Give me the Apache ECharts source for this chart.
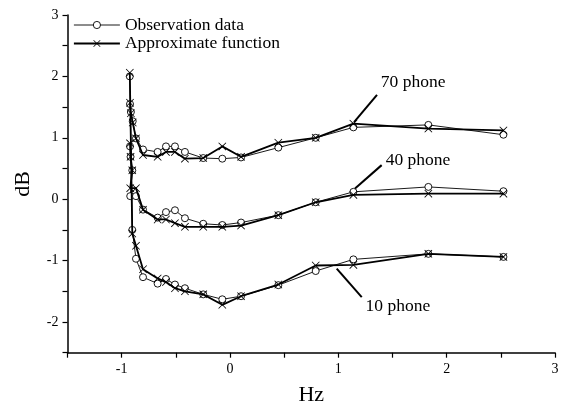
<!DOCTYPE html>
<html>
<head>
<meta charset="utf-8">
<script src="https://cdn.jsdelivr.net/npm/echarts@6/dist/echarts.min.js"></script>
<style>html,body{margin:0;padding:0;background:#fff}#c{width:561px;height:411px}</style>
</head>
<body>
<div id="c"></div>
<script>
// ---- data ----
const x70 = [-0.923, -0.915, -0.898, -0.868, -0.803, -0.668, -0.591, -0.508, -0.416, -0.247, -0.071, 0.102, 0.446, 0.791, 1.139, 1.831, 2.524];
const obs70 = [1.55, 1.42, 1.27, 0.99, 0.81, 0.77, 0.86, 0.86, 0.77, 0.67, 0.66, 0.68, 0.84, 1.00, 1.17, 1.21, 1.05];
const apx70 = [1.57, 1.40, 1.25, 0.99, 0.72, 0.69, 0.77, 0.77, 0.66, 0.67, 0.86, 0.69, 0.92, 1.00, 1.23, 1.15, 1.12];

const x40 = [-0.923, -0.918, -0.902, -0.921, -0.868, -0.803, -0.668, -0.591, -0.508, -0.416, -0.247, -0.071, 0.102, 0.446, 0.791, 1.139, 1.831, 2.524];
const obs40 = [0.86, 0.69, 0.47, 0.05, 0.05, -0.17, -0.30, -0.21, -0.18, -0.31, -0.40, -0.42, -0.38, -0.26, -0.05, 0.12, 0.20, 0.13];
const apx40 = [0.91, 0.69, 0.47, 0.18, 0.18, -0.17, -0.33, -0.33, -0.39, -0.45, -0.45, -0.45, -0.43, -0.26, -0.05, 0.07, 0.09, 0.09];

const x10 = [-0.925, -0.902, -0.868, -0.803, -0.668, -0.591, -0.508, -0.416, -0.247, -0.071, 0.102, 0.446, 0.791, 1.139, 1.831, 2.524];
const obs10 = [2.00, -0.50, -0.97, -1.27, -1.375, -1.30, -1.39, -1.45, -1.55, -1.63, -1.58, -1.40, -1.17, -0.98, -0.89, -0.94];
const apx10 = [2.06, -0.56, -0.76, -1.14, -1.29, -1.35, -1.45, -1.50, -1.55, -1.72, -1.58, -1.39, -1.08, -1.07, -0.89, -0.94];

const legendNames = ['Observation data', 'Approximate function'];
const curveLabels = ['70 phone', '40 phone', '10 phone'];
// annotation anchors in data units: [label pos], [arrow start], [arrow end]
const labelPos = [[1.69, 1.91], [1.735, 0.636], [1.55, -1.745]];
const arrowStart = [[1.357, 1.70], [1.40, 0.555], [1.216, -1.594]];
const arrowEnd = [[1.145, 1.256], [1.154, 0.175], [0.985, -1.13]];

// ---- chart ----
const FONT = "'Liberation Serif','Times New Roman',serif";
const crossPath = 'path://M0,0.7L0.7,0L5,4.3L9.3,0L10,0.7L5.7,5L10,9.3L9.3,10L5,5.7L0.7,10L0,9.3L4.3,5Z';
const zip = (xs, ys) => xs.map((x, i) => [x, ys[i]]);
const OBS_W = 0.9, APX_W = 1.8;

function obsSeries(xs, ys) {
  return {
    name: legendNames[0], type: 'line', data: zip(xs, ys),
    symbol: 'circle', symbolSize: 7,
    lineStyle: { color: '#000', width: OBS_W },
    itemStyle: { color: '#fff', borderColor: '#000', borderWidth: 0.9 },
    z: 2
  };
}
function apxSeries(xs, ys) {
  return {
    name: legendNames[1], type: 'line', data: zip(xs, ys),
    symbol: crossPath, symbolSize: 8,
    lineStyle: { color: '#000', width: APX_W },
    itemStyle: { color: '#000', borderWidth: 0 },
    z: 3
  };
}

const series = [
  obsSeries(x70, obs70), obsSeries(x40, obs40), obsSeries(x10, obs10),
  apxSeries(x70, apx70), apxSeries(x40, apx40), apxSeries(x10, apx10)
];
series.push({
  name: 'annot', type: 'line', data: [], silent: true,
  markLine: {
    silent: true, animation: false,
    symbol: ['none', 'arrow'], symbolSize: [0, 11],
    label: { show: false },
    lineStyle: { color: '#000', width: 2, type: 'solid' },
    emphasis: { disabled: true },
    data: arrowStart.map((s, i) => [{ coord: s }, { coord: arrowEnd[i] }])
  },
  markPoint: {
    silent: true, animation: false,
    symbol: 'circle', symbolSize: 1,
    itemStyle: { color: 'rgba(0,0,0,0)' },
    label: { show: true, position: 'inside', formatter: '{b}', color: '#000', fontFamily: FONT, fontSize: 17.5 },
    data: labelPos.map((p, i) => ({ name: curveLabels[i], coord: p }))
  }
});

const axisCommon = {
  type: 'value',
  axisLine: { show: true, onZero: false, lineStyle: { color: '#000', width: 1.5 } },
  axisTick: { show: true, inside: false, length: 5, lineStyle: { color: '#000', width: 1.2 } },
  splitLine: { show: false },
  nameTextStyle: { fontFamily: FONT, fontSize: 22, color: '#000' },
  axisLabel: {
    color: '#000', fontFamily: FONT, fontSize: 14,
    formatter: v => (Math.abs(v - Math.round(v)) < 1e-9 ? String(Math.round(v)) : '')
  }
};

const chart = echarts.init(document.getElementById('c'), null, { renderer: 'canvas' });
chart.setOption({
  animation: false,
  backgroundColor: '#fff',
  grid: { left: 67.5, right: 6, top: 15, bottom: 58.3, containLabel: false, outerBoundsMode: 'none' },
  legend: {
    data: [
      { name: legendNames[0], itemStyle: { color: '#fff', borderColor: '#000', borderWidth: 0.9 }, lineStyle: { color: '#000', width: OBS_W } },
      { name: legendNames[1], itemStyle: { color: '#000', borderWidth: 0 }, lineStyle: { color: '#000', width: APX_W } }
    ],
    orient: 'vertical', left: 73, top: 16, padding: 0,
    itemWidth: 46, itemHeight: 9, itemGap: 0.5,
    textStyle: { fontFamily: FONT, fontSize: 17.5, color: '#000' },
    selectedMode: false
  },
  xAxis: Object.assign({}, axisCommon, {
    min: -1.5, max: 3, interval: 0.5,
    name: 'Hz', nameLocation: 'middle', nameGap: 32,
    axisLabel: Object.assign({}, axisCommon.axisLabel, { margin: 10 })
  }),
  yAxis: Object.assign({}, axisCommon, {
    min: -2.5, max: 3, interval: 0.5,
    name: 'dB', nameLocation: 'middle', nameGap: 33, nameRotate: 90,
    axisLabel: Object.assign({}, axisCommon.axisLabel, { margin: 9 })
  }),
  series: series
});
</script>
</body>
</html>
